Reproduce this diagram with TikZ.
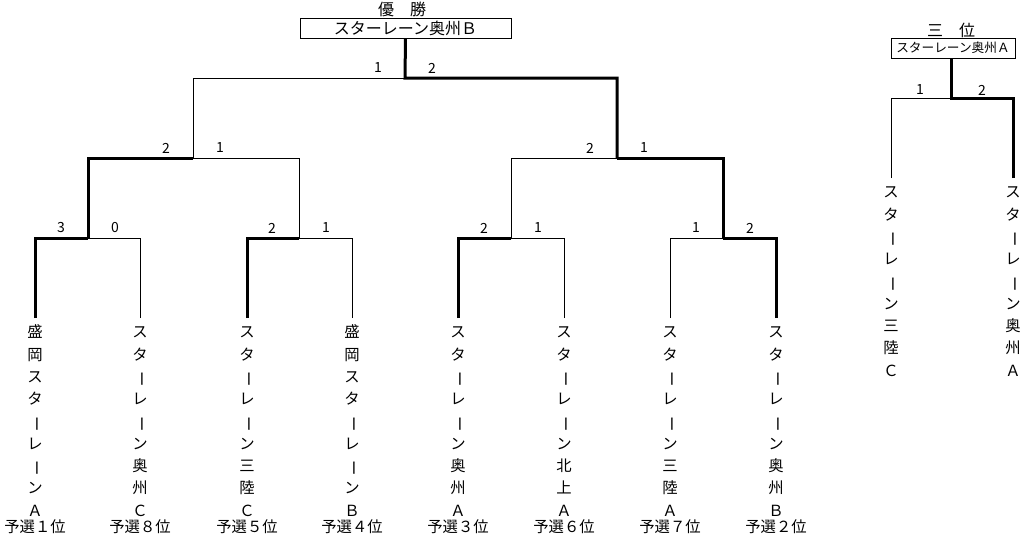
\documentclass[tikz,border=0pt]{standalone}
\usepackage{fontspec}
\usepackage{graphicx}
\usetikzlibrary{calc}
\newfontfamily\jpfont{Noto Sans CJK JP}
\newcommand{\chouon}{\rotatebox[origin=c]{-90}{ー}}

\begin{document}
\begin{tikzpicture}[x=0.75pt,y=-0.75pt]
  % Trame : 1 unité = 1 pixel de l'image
  \useasboundingbox (0,0) rectangle (1025,543);

  %
  % Définitions
  %
  \tikzset{
    team/.style={anchor=north, align=center, inner xsep=0pt, inner ysep=3pt,
      font=\jpfont\fontsize{11.5pt}{16.725pt}\selectfont},
    seed/.style={inner sep=0pt, font=\jpfont\fontsize{11.5pt}{13pt}\selectfont},
    score/.style={inner sep=0pt, font=\jpfont\fontsize{10.5pt}{12pt}\selectfont},
    heading/.style={inner sep=0pt, font=\jpfont\fontsize{12pt}{14pt}\selectfont},
    result/.style={draw, line width=0.75pt, inner sep=0pt, minimum height=15pt,
      font=\jpfont\fontsize{12pt}{14pt}\selectfont},
    win/.style={line width=2.25pt},
    lose/.style={line width=0.75pt},
  }
  \pgfmathsetmacro{\yleaf}{318};%
  \pgfmathsetmacro{\yone}{238};%
  \pgfmathsetmacro{\ytwo}{158};%
  \pgfmathsetmacro{\yfin}{78};%
  \pgfmathsetmacro{\yseed}{527};%
  \pgfmathsetmacro{\ysc}{10};%
  \pgfmathsetmacro{\dsc}{27};%

  %
  % Dessin
  %
  % Equipes
  \node[team] (t1) at (35,\yleaf) {\strut 盛\\岡\\ス\\タ\\\chouon\\レ\\\chouon\\ン\\Ａ};
  \node[team] (t2) at (140,\yleaf) {\strut ス\\タ\\\chouon\\レ\\\chouon\\ン\\奥\\州\\Ｃ};
  \node[team] (t3) at (247,\yleaf) {\strut ス\\タ\\\chouon\\レ\\\chouon\\ン\\三\\陸\\Ｃ};
  \node[team] (t4) at (352,\yleaf) {\strut 盛\\岡\\ス\\タ\\\chouon\\レ\\\chouon\\ン\\Ｂ};
  \node[team] (t5) at (458,\yleaf) {\strut ス\\タ\\\chouon\\レ\\\chouon\\ン\\奥\\州\\Ａ};
  \node[team] (t6) at (564,\yleaf) {\strut ス\\タ\\\chouon\\レ\\\chouon\\ン\\北\\上\\Ａ};
  \node[team] (t7) at (670,\yleaf) {\strut ス\\タ\\\chouon\\レ\\\chouon\\ン\\三\\陸\\Ａ};
  \node[team] (t8) at (776,\yleaf) {\strut ス\\タ\\\chouon\\レ\\\chouon\\ン\\奥\\州\\Ｂ};

  % Classement des qualifications
  \node[seed] (q1) at (35,\yseed) {予選１位};
  \node[seed] (q2) at (140,\yseed) {予選８位};
  \node[seed] (q3) at (247,\yseed) {予選５位};
  \node[seed] (q4) at (352,\yseed) {予選４位};
  \node[seed] (q5) at (458,\yseed) {予選３位};
  \node[seed] (q6) at (564,\yseed) {予選６位};
  \node[seed] (q7) at (670,\yseed) {予選７位};
  \node[seed] (q8) at (776,\yseed) {予選２位};

  % Noeuds du tableau
  \coordinate (m1) at (88,\yone);
  \coordinate (m2) at (299,\yone);
  \coordinate (m3) at (511,\yone);
  \coordinate (m4) at (723,\yone);
  \coordinate (s1) at (193,\ytwo);
  \coordinate (s2) at (617,\ytwo);
  \coordinate (f) at (405,\yfin);

  % Vainqueur
  \node[heading] (champtitle) at (402,9) {優　勝};
  \node[result, minimum width=158.25pt] (champ) at (405.5,28) {スターレーン奥州Ｂ};

  % Branches perdantes
  \draw[lose] (t2.north) |- (m1);%
  \draw[lose] (t4.north) |- (m2);%
  \draw[lose] (t6.north) |- (m3);%
  \draw[lose] (t7.north) |- (m4);%
  \draw[lose] (m2) |- (s1);%
  \draw[lose] (m3) |- (s2);%
  \draw[lose] (s1) |- (f);%

  % Branches gagnantes
  \draw[win] (t1.north) |- (m1);%
  \draw[win] (t3.north) |- (m2);%
  \draw[win] (t5.north) |- (m3);%
  \draw[win] (t8.north) |- (m4);%
  \draw[win] (m1) |- (s1);%
  \draw[win] (m4) |- (s2);%
  \draw[win] (s2) |- (f) -- (champ.south);%

  % Scores
  \node[score] (p1l) at ($(m1)+(-\dsc,-\ysc)$) {3};
  \node[score] (p1r) at ($(m1)+(\dsc,-\ysc)$) {0};
  \node[score] (p2l) at ($(m2)+(-\dsc,-\ysc)$) {2};
  \node[score] (p2r) at ($(m2)+(\dsc,-\ysc)$) {1};
  \node[score] (p3l) at ($(m3)+(-\dsc,-\ysc)$) {2};
  \node[score] (p3r) at ($(m3)+(\dsc,-\ysc)$) {1};
  \node[score] (p4l) at ($(m4)+(-\dsc,-\ysc)$) {1};
  \node[score] (p4r) at ($(m4)+(\dsc,-\ysc)$) {2};
  \node[score] (p5l) at ($(s1)+(-\dsc,-\ysc)$) {2};
  \node[score] (p5r) at ($(s1)+(\dsc,-\ysc)$) {1};
  \node[score] (p6l) at ($(s2)+(-\dsc,-\ysc)$) {2};
  \node[score] (p6r) at ($(s2)+(\dsc,-\ysc)$) {1};
  \node[score] (p7l) at ($(f)+(-\dsc,-\ysc)$) {1};
  \node[score] (p7r) at ($(f)+(\dsc,-\ysc)$) {2};

  % Troisième place
  \node[heading] (thirdtitle) at (951,30) {三　位};
  \node[result, minimum width=93pt, font=\jpfont\fontsize{9.5pt}{11pt}\selectfont]
    (third) at (953,48) {スターレーン奥州Ａ};
  \coordinate (b) at (951,98);
  \node[team] (u1) at (891,178) {\strut ス\\タ\\\chouon\\レ\\\chouon\\ン\\三\\陸\\Ｃ};
  \node[team] (u2) at (1013,178) {\strut ス\\タ\\\chouon\\レ\\\chouon\\ン\\奥\\州\\Ａ};
  \draw[lose] (u1.north) |- (b);%
  \draw[win] (u2.north) |- (b) -- (b |- third.south);%
  \node[score] (p8l) at ($(b)+(-31,-8)$) {1};
  \node[score] (p8r) at ($(b)+(31,-8)$) {2};

\end{tikzpicture}
\end{document}
